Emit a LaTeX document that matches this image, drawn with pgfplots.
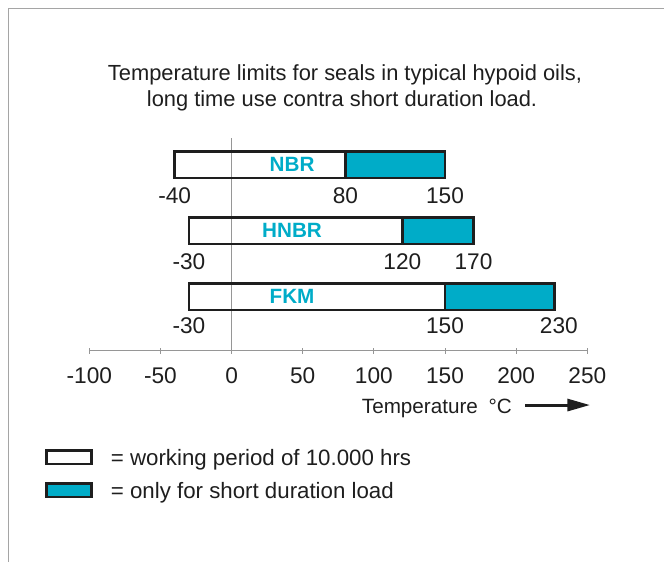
\documentclass[border=0pt]{standalone}
\usepackage{fontspec}
\setmainfont{Liberation Sans}
\usepackage{pgfplots}
\pgfplotsset{compat=1.18}
\usetikzlibrary{arrows.meta}
\definecolor{seal}{RGB}{0,172,200}
\definecolor{axgray}{RGB}{150,150,150}
\definecolor{framegray}{RGB}{165,165,165}
\definecolor{ink}{RGB}{30,30,30}
\newcommand\numfont{\fontsize{17}{20}\selectfont}

% Bars: y = bar centre (px above the temperature axis), half height 13.35
% NBR  : -40 .. 80 (long time), 80 .. 150 (short duration)   centre 186
% HNBR : -30 .. 120,            120 .. 170                    centre 120
% FKM  : -30 .. 150,            150 .. 227                    centre 54

\begin{document}
\begin{tikzpicture}
\begin{axis}[
  scale only axis,
  width=373.5pt, height=159.75pt,
  xmin=-100, xmax=250, ymin=0, ymax=213,
  enlargelimits=false,
  clip=false,
  axis x line*=bottom,
  axis y line=none,
  x axis line style={axgray, line width=0.6pt},
  xtick={-100,-50,0,50,100,150,200,250},
  xticklabels={-100,-50,0,50,100,150,200,250},
  xticklabel style={font=\numfont, anchor=base, yshift=-22pt, text=ink, inner sep=0pt},
  major tick length=4.5pt,
  tick align=center,
  tick style={axgray, line width=0.6pt},
  ytick=\empty,
  extra x ticks={0},
  extra x tick labels={},
  extra x tick style={grid=major, major grid style={axgray, line width=0.6pt}},
  legend image code/.code={\draw[#1,/tikz/.cd,line width=1.9pt] (0pt,-5.1pt) rectangle (33.8pt,5.1pt);},
  legend cell align=left,
  legend style={draw=none, fill=none, at={(axis cs:-131.1,-98.6)}, anchor=north west,
    inner sep=0pt, outer sep=0pt, row sep=12.6pt,
    font=\fontsize{16.7}{19}\selectfont, text=ink,
    nodes={inner sep=0pt, text height=11.8pt, text depth=0pt},
    /tikz/every odd column/.append style={column sep=13.7pt}},
  work/.style={draw=ink, fill=none, line width=1.9pt, mark=none, line join=miter},
  short/.style={draw=ink, fill=seal, line width=1.9pt, mark=none, line join=miter},
]
% long-time working range (white)
\addplot[work] coordinates {(-40,172.65) (80,172.65) (80,199.35) (-40,199.35)} -- cycle;
\addlegendentry{= working period of 10.000 hrs}
% short duration range (teal)
\addplot[short] coordinates {(80,172.65) (150,172.65) (150,199.35) (80,199.35)} -- cycle;
\addlegendentry{= only for short duration load}
\addplot[work, forget plot] coordinates {(-30,106.65) (120,106.65) (120,133.35) (-30,133.35)} -- cycle;
\addplot[short, forget plot] coordinates {(120,106.65) (170,106.65) (170,133.35) (120,133.35)} -- cycle;
\addplot[work, forget plot] coordinates {(-30,40.65) (150,40.65) (150,67.35) (-30,67.35)} -- cycle;
\addplot[short, forget plot] coordinates {(150,40.65) (227,40.65) (227,67.35) (150,67.35)} -- cycle;

% material names
\node[font=\bfseries\fontsize{15.5}{18}\selectfont, text=seal] at (axis cs:42.5,186) {NBR};
\node[font=\bfseries\fontsize{15.5}{18}\selectfont, text=seal] at (axis cs:42.5,120) {HNBR};
\node[font=\bfseries\fontsize{15.5}{18}\selectfont, text=seal] at (axis cs:42.5,54) {FKM};

% limit values
\node[font=\numfont, anchor=base, text=ink, inner sep=0pt] at (axis cs:-40,147.4) {-40};
\node[font=\numfont, anchor=base, text=ink, inner sep=0pt] at (axis cs:80,147.4) {80};
\node[font=\numfont, anchor=base, text=ink, inner sep=0pt] at (axis cs:150,147.4) {150};
\node[font=\numfont, anchor=base, text=ink, inner sep=0pt] at (axis cs:-30,81.7) {-30};
\node[font=\numfont, anchor=base, text=ink, inner sep=0pt] at (axis cs:120,81.7) {120};
\node[font=\numfont, anchor=base, text=ink, inner sep=0pt] at (axis cs:170,81.7) {170};
\node[font=\numfont, anchor=base, text=ink, inner sep=0pt] at (axis cs:-30,17.4) {-30};
\node[font=\numfont, anchor=base, text=ink, inner sep=0pt] at (axis cs:150,17.4) {150};
\node[font=\numfont, anchor=base, text=ink, inner sep=0pt] at (axis cs:230,17.4) {230};

% title
\node[font=\fontsize{16.4}{19}\selectfont, anchor=base, text=ink] at (axis cs:79.7,270.7) {Temperature limits for seals in typical hypoid oils,};
\node[font=\fontsize{16.4}{19}\selectfont, anchor=base, text=ink] at (axis cs:77.6,244.7) {long time use contra short duration load.};

% axis title with arrow
\node[font=\fontsize{15.5}{18}\selectfont, anchor=base west, text=ink, inner sep=0pt] at (axis cs:91.4,-62.6) {Temperature\hspace{8pt}°C};
\draw[ink, line width=2.2pt, -{Triangle[length=17pt,width=9pt]}] (axis cs:206.2,-54.3) -- (axis cs:251.9,-54.3);

% frame
\draw[framegray, line width=0.75pt] (axis cs:-157.1,-211.3) -- (axis cs:-157.1,342.7) -- (axis cs:303.87,342.7);

\coordinate (bbsw) at (axis cs:-162.75,-211.3);
\coordinate (bbne) at (axis cs:303.87,350.7);
\end{axis}
\pgfresetboundingbox
\useasboundingbox (bbsw) rectangle (bbne);
\end{tikzpicture}
\end{document}
